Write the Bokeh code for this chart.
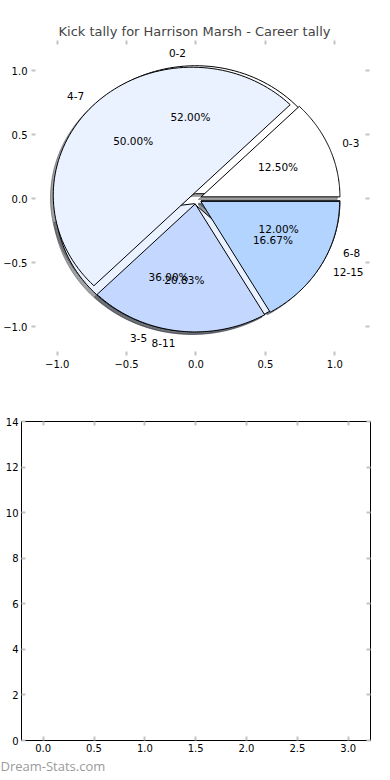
import numpy as np
from bokeh.plotting import figure
from bokeh.models import Range1d, FixedTicker, LinearAxis, Title, ColumnDataSource
from bokeh.core.properties import value
from bokeh.embed import file_html
from bokeh.resources import INLINE

# ---------------- data ----------------
title_text = "Kick tally for Harrison Marsh - Career tally"
pie_a_labels = ["0-2", "3-5", "6-8"]
pie_a_counts = [13, 9, 3]
pie_a_colors = ["#FFFFFF", "#EBF2FF", "#C4D8FF"]
pie_b_labels = ["0-3", "4-7", "8-11", "12-15"]
pie_b_counts = [3, 12, 5, 4]
pie_b_colors = ["#FFFFFF", "#EBF2FF", "#C4D8FF", "#B3D4FF"]
pie_ticks = [-1.0, -0.5, 0.0, 0.5, 1.0]
pie_tick_labels = ["\u22121.0", "\u22120.5", "0.0", "0.5", "1.0"]
bar_yticks = [0, 2, 4, 6, 8, 10, 12, 14]
bar_xticks = [0.0, 0.5, 1.0, 1.5, 2.0, 2.5, 3.0]
bar_xtick_labels = ["0.0", "0.5", "1.0", "1.5", "2.0", "2.5", "3.0"]
watermark = "Dream-Stats.com"

EXPLODE = 0.04
FONT = "DejaVu Sans"
TICK_COLOR = "#c4c4c4"


def pie_geometry(counts, colors, labels):
    total = float(sum(counts))
    out = dict(xs=[], ys=[], sx=[], sy=[], color=[], shadow=[],
               lx=[], ly=[], lab=[], lalign=[], px=[], py=[], pct=[])
    t1 = 0.0
    for c, col, lab in zip(counts, colors, labels):
        frac = c / total
        t2 = t1 + 360.0 * frac
        mid = np.deg2rad((t1 + t2) / 2.0)
        cx, cy = EXPLODE * np.cos(mid), EXPLODE * np.sin(mid)
        ang = np.deg2rad(np.linspace(t1, t2, 90))
        xs = np.concatenate([[cx], cx + np.cos(ang), [cx]])
        ys = np.concatenate([[cy], cy + np.sin(ang), [cy]])
        out["xs"].append(list(xs))
        out["ys"].append(list(ys))
        out["sx"].append(list(xs - 0.02))
        out["sy"].append(list(ys - 0.02))
        out["color"].append(col)
        r, g, b = (int(col[i:i + 2], 16) for i in (1, 3, 5))
        out["shadow"].append("#%02x%02x%02x" % (int(0.3 * r), int(0.3 * g), int(0.3 * b)))
        lxv = cx + 1.1 * np.cos(mid)
        out["lx"].append(lxv)
        out["ly"].append(cy + 1.1 * np.sin(mid))
        out["lab"].append(lab)
        out["lalign"].append("left" if lxv > 0 else "right")
        out["px"].append(cx + 0.6 * np.cos(mid))
        out["py"].append(cy + 0.6 * np.sin(mid))
        out["pct"].append("%.2f%%" % (100.0 * frac))
        t1 = t2
    return out


def style_axis(ax, ticks, labels, show=True, standoff=4):
    ax.ticker = FixedTicker(ticks=ticks)
    ax.axis_line_color = None
    ax.major_tick_in = 4
    ax.major_tick_out = 0
    ax.minor_tick_line_color = None
    ax.major_tick_line_color = TICK_COLOR
    ax.major_tick_line_width = 2
    ax.major_label_text_font = FONT
    ax.major_label_text_color = "black"
    ax.major_label_text_font_size = "10px"
    if show:
        ax.major_label_overrides = {t: s for t, s in zip(ticks, labels)}
        ax.major_label_standoff = standoff
    else:
        ax.major_label_overrides = {t: "" for t in ticks}
        ax.major_label_standoff = 0


# ---------------- pie figure ----------------
p1 = figure(width=390, height=388, output_backend="svg", toolbar_location=None,
            x_range=Range1d(-1.185, 1.25), y_range=Range1d(-1.224, 1.237),
            min_border_left=30, min_border_right=21, min_border_top=40, min_border_bottom=33,
            x_axis_location=None, y_axis_location=None)
p1.title.text = title_text
p1.title.align = "left"
p1.title.offset = 27
p1.title.text_font = FONT
p1.title.text_font_size = "13px"
p1.title.text_font_style = "normal"
p1.title.standoff = 4
p1.outline_line_color = None
p1.grid.visible = False

for loc, show in (("below", True), ("left", True), ("above", False), ("right", False)):
    ax = LinearAxis()
    style_axis(ax, pie_ticks, pie_tick_labels, show=show, standoff=4)
    p1.add_layout(ax, loc)

ga = pie_geometry(pie_a_counts, pie_a_colors, pie_a_labels)
gb = pie_geometry(pie_b_counts, pie_b_colors, pie_b_labels)

# shadows (drawn beneath every wedge)
for g in (ga, gb):
    src = ColumnDataSource(dict(xs=g["sx"], ys=g["sy"], c=g["shadow"]))
    p1.patches("xs", "ys", source=src, fill_color="c", line_color="c",
               fill_alpha=0.5, line_alpha=0.5, line_width=1)
# wedges
for g in (ga, gb):
    src = ColumnDataSource(dict(xs=g["xs"], ys=g["ys"], c=g["color"]))
    p1.patches("xs", "ys", source=src, fill_color="c", line_color="black", line_width=1)
# texts
for g in (ga, gb):
    for align in ("left", "right"):
        idx = [i for i, a in enumerate(g["lalign"]) if a == align]
        src = ColumnDataSource(dict(x=[g["lx"][i] for i in idx], y=[g["ly"][i] for i in idx],
                                    t=[g["lab"][i] for i in idx]))
        p1.text("x", "y", text="t", source=src, text_align=align, text_baseline="middle",
                text_font=value(FONT), text_font_size="10.5px", text_color="black")
    src = ColumnDataSource(dict(x=g["px"], y=g["py"], t=g["pct"]))
    p1.text("x", "y", text="t", source=src, text_align="center", text_baseline="middle",
            text_font=value(FONT), text_font_size="10.5px", text_color="black")

# ---------------- empty bar figure ----------------
p2 = figure(width=390, height=392, output_backend="svg", toolbar_location=None,
            x_range=Range1d(-0.213, 3.219), y_range=Range1d(0, 14),
            min_border_left=21, min_border_right=20, min_border_top=33, min_border_bottom=40,
            x_axis_location=None, y_axis_location=None)
p2.outline_line_color = "black"
p2.outline_line_width = 1
p2.grid.visible = False

for loc, show in (("below", True), ("left", True), ("above", False), ("right", False)):
    ax = LinearAxis()
    if loc in ("below", "above"):
        style_axis(ax, bar_xticks, bar_xtick_labels, show=show, standoff=3)
    else:
        style_axis(ax, bar_yticks, [str(v) for v in bar_yticks], show=show, standoff=3)
    p2.add_layout(ax, loc)

p2.add_layout(Title(text=watermark, align="left", text_font="Open Sans",
                    text_font_size="13px", text_font_style="normal",
                    text_color="#9a9a9a", standoff=0, offset=-21), "below")

open("out.html", "w").write(file_html([p1, p2], INLINE))
